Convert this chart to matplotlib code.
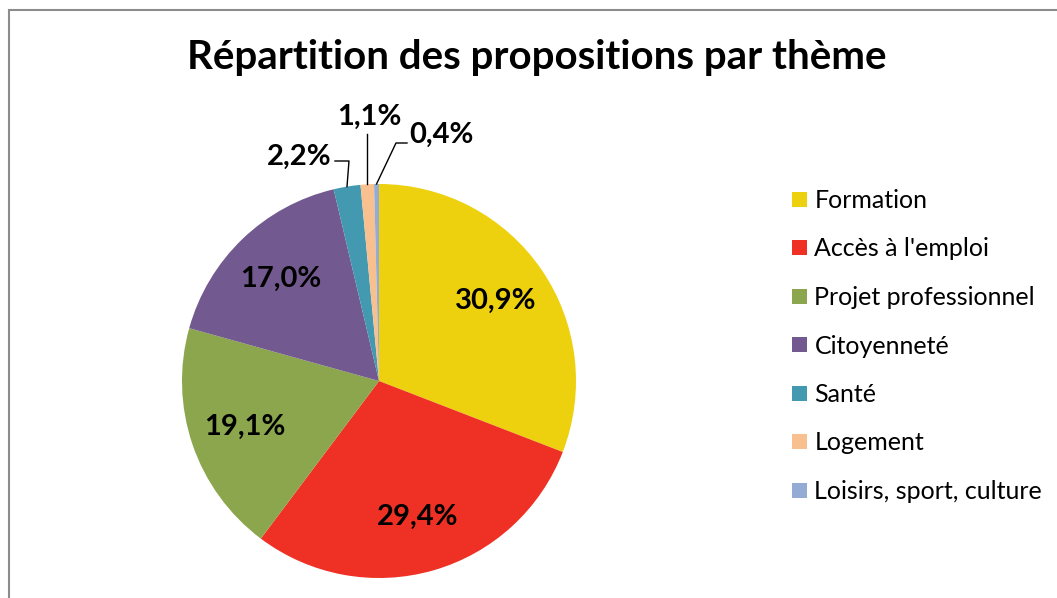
import numpy as np
import matplotlib.pyplot as plt
from matplotlib.patches import Rectangle

plt.rcParams['font.family'] = ['Lato', 'DejaVu Sans']

# data
themes = ['Formation', "Accès à l'emploi", 'Projet professionnel', 'Citoyenneté',
          'Santé', 'Logement', 'Loisirs, sport, culture']
shares = [30.9, 29.4, 19.1, 17.0, 2.2, 1.1, 0.4]
colors = ['#EDD10F', '#EE3124', '#8BA64C', '#72598F', '#4299B0', '#F9C08F', '#94ACD3']

W, H = 1057, 598
fig = plt.figure(figsize=(W / 100, H / 100), dpi=100)

# frame (only left and top visible in the original crop)
fig.patches.append(Rectangle((9 / W, -0.1), 1.2, (H - 10) / H + 0.1, transform=fig.transFigure,
                             fill=False, edgecolor='#8c8c8c', linewidth=1.5))

fig.text(537 / W, 1 - 58 / H, 'Répartition des propositions par thème',
         ha='center', va='center', fontsize=29, fontweight='bold')

cx, cy, r = 379, 381, 197
ax = fig.add_axes([(cx - r) / W, (H - cy - r) / H, 2 * r / W, 2 * r / H])

def fmt(p):
    return ('%.1f%%' % p).replace('.', ',')

wedges, texts = ax.pie(shares, colors=colors, startangle=90, counterclock=False,
                       radius=1)
ax.set_xlim(-1, 1)
ax.set_ylim(-1, 1)
ax.set_aspect('equal')

total = sum(shares)
cum = np.cumsum([0] + shares)
mids = [np.deg2rad(90 - (cum[i] + shares[i] / 2) / total * 360) for i in range(len(shares))]

lab_fs = 21

# big slices: labels inside
for i in range(4):
    d = 0.72
    ax.text(d * np.cos(mids[i]), d * np.sin(mids[i]), fmt(shares[i]),
            ha='center', va='center', fontsize=lab_fs, fontweight='bold')

def px(x, y):
    return (x - cx) / r, (cy - y) / r

# small slices: labels outside with leader lines
lw = 1.0
# Santé
ex, ey = np.cos(mids[4]), np.sin(mids[4])
k1 = px(349, 161)
k2 = px(335, 161)
ax.plot([ex, k1[0], k2[0]], [ey, k1[1], k2[1]], color='black', lw=lw, clip_on=False)
t = px(331, 157)
ax.text(t[0], t[1], fmt(shares[4]), ha='right', va='center', fontsize=lab_fs, fontweight='bold')
# Logement
ex, ey = np.cos(mids[5]), np.sin(mids[5])
k1 = px(368, 134)
ax.plot([ex, ex], [ey, k1[1]], color='black', lw=lw, clip_on=False)
t = px(369, 117)
ax.text(t[0], t[1], fmt(shares[5]), ha='center', va='center', fontsize=lab_fs, fontweight='bold')
# Loisirs
ex, ey = np.cos(mids[6]), np.sin(mids[6])
k1 = px(396, 143)
k2 = px(407, 143)
ax.plot([ex, k1[0], k2[0]], [ey, k1[1], k2[1]], color='black', lw=lw, clip_on=False)
t = px(409, 135)
ax.text(t[0], t[1], fmt(shares[6]), ha='left', va='center', fontsize=lab_fs, fontweight='bold')

fig.legend(wedges, themes, loc='center left', bbox_to_anchor=(792 / W, 1 - 346 / H),
           frameon=False, fontsize=18, handlelength=0.6, handleheight=0.55,
           handletextpad=0.3, labelspacing=1.02, borderaxespad=0, borderpad=0)

fig.savefig('out.png', dpi=100)
